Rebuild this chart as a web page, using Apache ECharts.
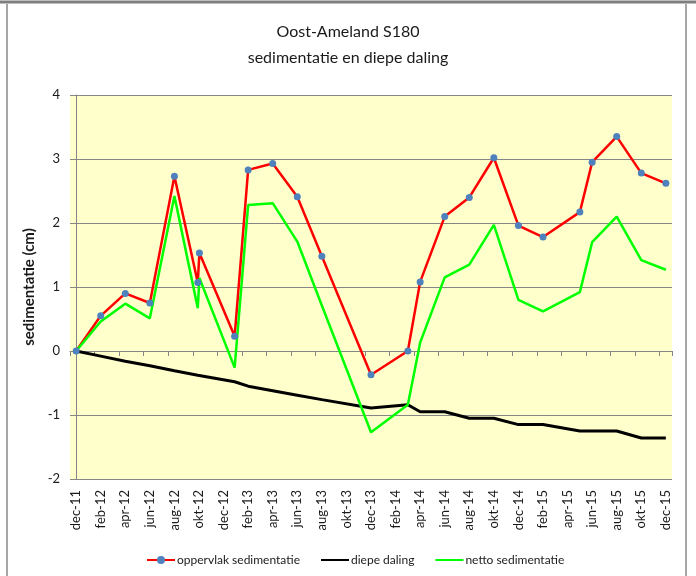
<!DOCTYPE html>
<html>
<head>
<meta charset="utf-8">
<script src="https://cdn.jsdelivr.net/npm/echarts@6/dist/echarts.min.js"></script>
<style>
  html, body { margin: 0; padding: 0; background: #ffffff; }
  #chart { width: 696px; height: 576px; }
</style>
</head>
<body>
<div id="chart"></div>
<script>
// meetdatums (Oost-Ameland S180)
const dates = ['2011-12-01', '2012-02-01', '2012-04-01', '2012-06-01', '2012-08-01', '2012-09-28', '2012-10-02',
  '2012-12-28', '2013-02-01', '2013-04-01', '2013-06-01', '2013-08-01', '2013-12-01', '2014-03-01', '2014-04-01',
  '2014-06-01', '2014-08-01', '2014-10-01', '2014-12-01', '2015-02-01', '2015-05-01', '2015-06-01', '2015-08-01',
  '2015-10-01', '2015-12-01'];
// oppervlak sedimentatie (cm)
const oppervlak = [0, 0.55, 0.90, 0.75, 2.73, 1.07, 1.53, 0.23, 2.83, 2.93, 2.41, 1.48, -0.37, 0.0, 1.08,
  2.10, 2.40, 3.02, 1.96, 1.78, 2.17, 2.95, 3.35, 2.78, 2.62];
// diepe daling (cm)
const diepeDaling = [0, -0.08, -0.16, -0.23, -0.31, -0.38, -0.39, -0.48, -0.55, -0.62, -0.69, -0.76, -0.89, -0.84, -0.95,
  -0.95, -1.05, -1.05, -1.15, -1.15, -1.25, -1.25, -1.25, -1.36, -1.36];
// netto sedimentatie (cm)
const netto = [0, 0.46, 0.74, 0.51, 2.42, 0.67, 1.14, -0.26, 2.28, 2.31, 1.71, 0.71, -1.27, -0.84, 0.13,
  1.15, 1.35, 1.97, 0.80, 0.62, 0.92, 1.70, 2.10, 1.42, 1.27];

const maanden = ['jan', 'feb', 'mrt', 'apr', 'mei', 'jun', 'jul', 'aug', 'sep', 'okt', 'nov', 'dec'];
const startJaar = 2011, startMaand = 12, aantalMaanden = 49; // dec-11 t/m dec-15

// categorieen voor de maand-as
let categories = [];
for (let i = 0; i < aantalMaanden; i++) {
  let m = (startMaand - 1 + i) % 12;
  let j = startJaar + Math.floor((startMaand - 1 + i) / 12);
  categories.push(maanden[m] + '-' + String(j).slice(2));
}

// datum -> maanden sinds dec-11
function maandPos(d) {
  let p = d.split('-').map(Number);
  return (p[0] - startJaar) * 12 + (p[1] - startMaand) + (p[2] - 1) / 30;
}
function koppel(values) {
  return values.map((v, i) => [maandPos(dates[i]), v]);
}

let myChart = echarts.init(document.getElementById('chart'));
const font = 'Lato, "Open Sans", sans-serif';
const grijs = '#868686';

let option = {
  animation: false,
  backgroundColor: '#ffffff',
  textStyle: { fontFamily: font },
  title: {
    text: 'Oost-Ameland S180\nsedimentatie en diepe daling',
    left: 'center',
    top: 14,
    textStyle: { fontFamily: font, fontSize: 16, fontWeight: 'normal', color: '#1a1a1a', lineHeight: 26 }
  },
  graphic: [
    { type: 'line', shape: { x1: 0, y1: 2, x2: 696, y2: 2 }, style: { stroke: '#7f7f7f', lineWidth: 3 } },
    { type: 'line', shape: { x1: 7, y1: 4, x2: 7, y2: 576 }, style: { stroke: '#a6a6a6', lineWidth: 2 } },
    { type: 'line', shape: { x1: 686, y1: 4, x2: 686, y2: 576 }, style: { stroke: '#a6a6a6', lineWidth: 2 } }
  ],
  legend: {
    left: 141,
    top: 549,
    itemWidth: 28,
    itemHeight: 10,
    itemGap: 20,
    textStyle: { fontFamily: font, fontSize: 12, color: '#1a1a1a', padding: [0, 0, 0, -3] },
    data: [
      { name: 'oppervlak sedimentatie' },
      { name: 'diepe daling', itemStyle: { opacity: 0 } },
      { name: 'netto sedimentatie', itemStyle: { opacity: 0 } }
    ]
  },
  grid: { left: 70, right: 24, top: 95, bottom: 97, show: true, backgroundColor: '#FFFFCC', borderWidth: 0 },
  xAxis: [
    { // maand-as met streepjes op de nullijn
      type: 'category',
      data: categories,
      boundaryGap: true,
      axisLine: { onZero: true, lineStyle: { color: grijs, width: 1 } },
      axisTick: { show: true, interval: 1, length: 5, lineStyle: { color: grijs } },
      axisLabel: { show: false },
      splitLine: { show: false }
    },
    { // labels onderaan
      type: 'category',
      data: categories,
      position: 'bottom',
      boundaryGap: true,
      axisLine: { show: false, onZero: false },
      axisTick: { show: false },
      axisLabel: { interval: 1, rotate: 90, margin: 11, fontFamily: font, fontSize: 13, color: '#1a1a1a' },
      splitLine: { show: false }
    },
    { // verborgen waarde-as voor de data
      type: 'value',
      min: -0.5,
      max: 48.5,
      show: false
    }
  ],
  yAxis: {
    type: 'value',
    min: -2,
    max: 4,
    interval: 1,
    name: 'sedimentatie (cm)',
    nameLocation: 'middle',
    nameRotate: 90,
    nameGap: 17,
    nameTextStyle: { fontFamily: font, fontSize: 15, fontWeight: 'bold', color: '#1a1a1a' },
    axisLine: { show: true, lineStyle: { color: grijs } },
    axisTick: { show: true, length: 5, lineStyle: { color: grijs } },
    axisLabel: { margin: 10, fontFamily: font, fontSize: 13, color: '#1a1a1a' },
    splitLine: { lineStyle: { color: grijs, width: 1 } }
  },
  series: [
    {
      name: 'oppervlak sedimentatie',
      type: 'line',
      xAxisIndex: 2,
      data: koppel(oppervlak),
      symbol: 'circle',
      symbolSize: 7,
      itemStyle: { color: '#4F81BD' },
      lineStyle: { color: '#FF0000', width: 2.5 }
    },
    {
      name: 'diepe daling',
      type: 'line',
      xAxisIndex: 2,
      data: koppel(diepeDaling),
      symbol: 'none',
      itemStyle: { color: '#000000' },
      lineStyle: { color: '#000000', width: 3 }
    },
    {
      name: 'netto sedimentatie',
      type: 'line',
      xAxisIndex: 2,
      data: koppel(netto),
      symbol: 'none',
      itemStyle: { color: '#00FF00' },
      lineStyle: { color: '#00FF00', width: 2.5 }
    }
  ]
};
myChart.setOption(option);
</script>
</body>
</html>
